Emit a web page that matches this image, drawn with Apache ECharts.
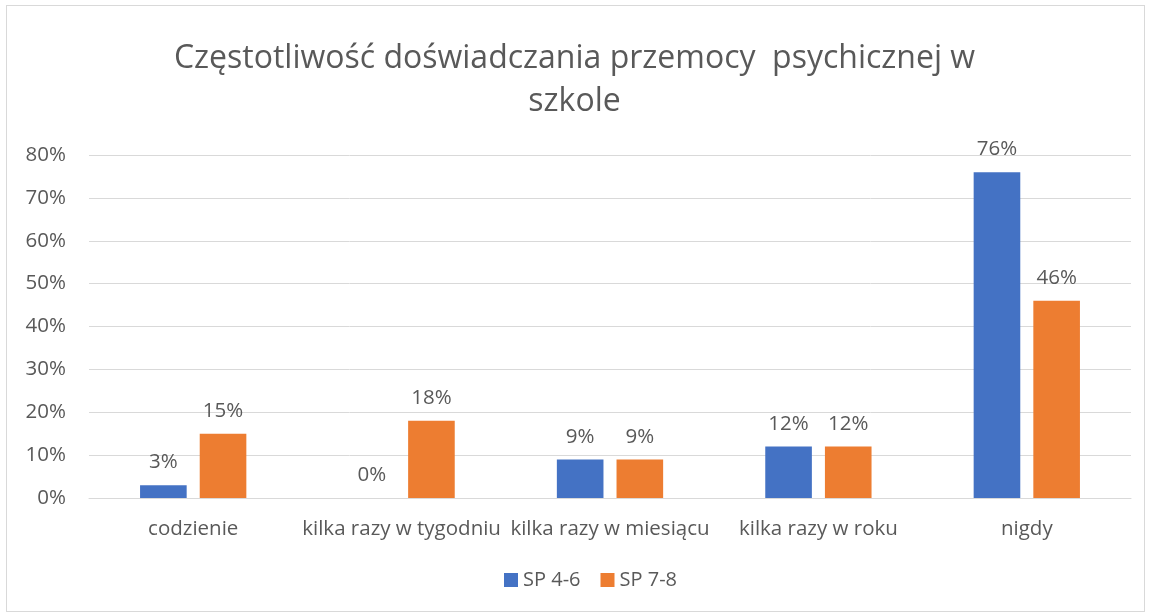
<!DOCTYPE html>
<html>
<head>
<meta charset="utf-8">
<script src="https://cdn.jsdelivr.net/npm/echarts@6/dist/echarts.min.js"></script>
<style>
  html, body { margin: 0; padding: 0; background: #fff; }
  #chart { width: 1149px; height: 616px; position: relative; }
  .frame { position: absolute; left: 6px; top: 5px; width: 1139px; height: 607px; border: 1px solid #d9d9d9; box-sizing: border-box; pointer-events: none; }
</style>
</head>
<body>
<div id="chart"></div>
<div class="frame"></div>
<script>
// dane wykresu
var categories = ['codzienie', 'kilka razy w tygodniu', 'kilka razy w miesiącu', 'kilka razy w roku', 'nigdy'];
var sp46 = [3, 0, 9, 12, 76];
var sp78 = [15, 18, 9, 12, 46];
var yTicks = [0, 10, 20, 30, 40, 50, 60, 70, 80];

var font = '"Open Sans", Lato, sans-serif';
var textColor = '#595959';

var chart = echarts.init(document.getElementById('chart'));

var labelStyle = {
  show: true,
  position: 'top',
  distance: 12,
  color: textColor,
  fontSize: 20.5,
  fontFamily: font,
  formatter: '{c}%'
};

var option = {
  animation: false,
  title: {
    text: 'Częstotliwość doświadczania przemocy  psychicznej w\nszkole',
    left: 'center',
    top: 32,
    textStyle: {
      color: textColor,
      fontSize: 32,
      fontWeight: 'normal',
      fontFamily: font,
      lineHeight: 43
    }
  },
  legend: {
    bottom: 21,
    left: 499,
    itemWidth: 14,
    itemHeight: 14,
    itemGap: 20,
    icon: 'rect',
    textStyle: { color: textColor, fontSize: 20, fontFamily: font },
    data: ['SP 4-6', 'SP 7-8']
  },
  grid: {
    left: 89,
    right: 18,
    top: 155,
    bottom: 118
  },
  xAxis: {
    type: 'category',
    data: categories,
    axisLine: { show: true, lineStyle: { color: '#d9d9d9', width: 1 } },
    axisTick: { show: false },
    axisLabel: {
      color: textColor,
      fontSize: 20.5,
      fontFamily: font,
      margin: 21,
      interval: 0
    }
  },
  yAxis: {
    type: 'value',
    min: yTicks[0],
    max: yTicks[yTicks.length - 1],
    interval: 10,
    axisLine: { show: false },
    axisTick: { show: false },
    axisLabel: {
      color: textColor,
      fontSize: 20.5,
      fontFamily: font,
      margin: 23,
      formatter: '{value}%'
    },
    splitLine: { lineStyle: { color: '#d9d9d9', width: 1 } }
  },
  series: [
    {
      name: 'SP 4-6',
      type: 'bar',
      data: sp46,
      itemStyle: { color: '#4472C4' },
      barGap: '28%',
      barCategoryGap: '49%',
      label: labelStyle
    },
    {
      name: 'SP 7-8',
      type: 'bar',
      data: sp78,
      itemStyle: { color: '#ED7D31' },
      label: labelStyle
    }
  ]
};

chart.setOption(option);
</script>
</body>
</html>
